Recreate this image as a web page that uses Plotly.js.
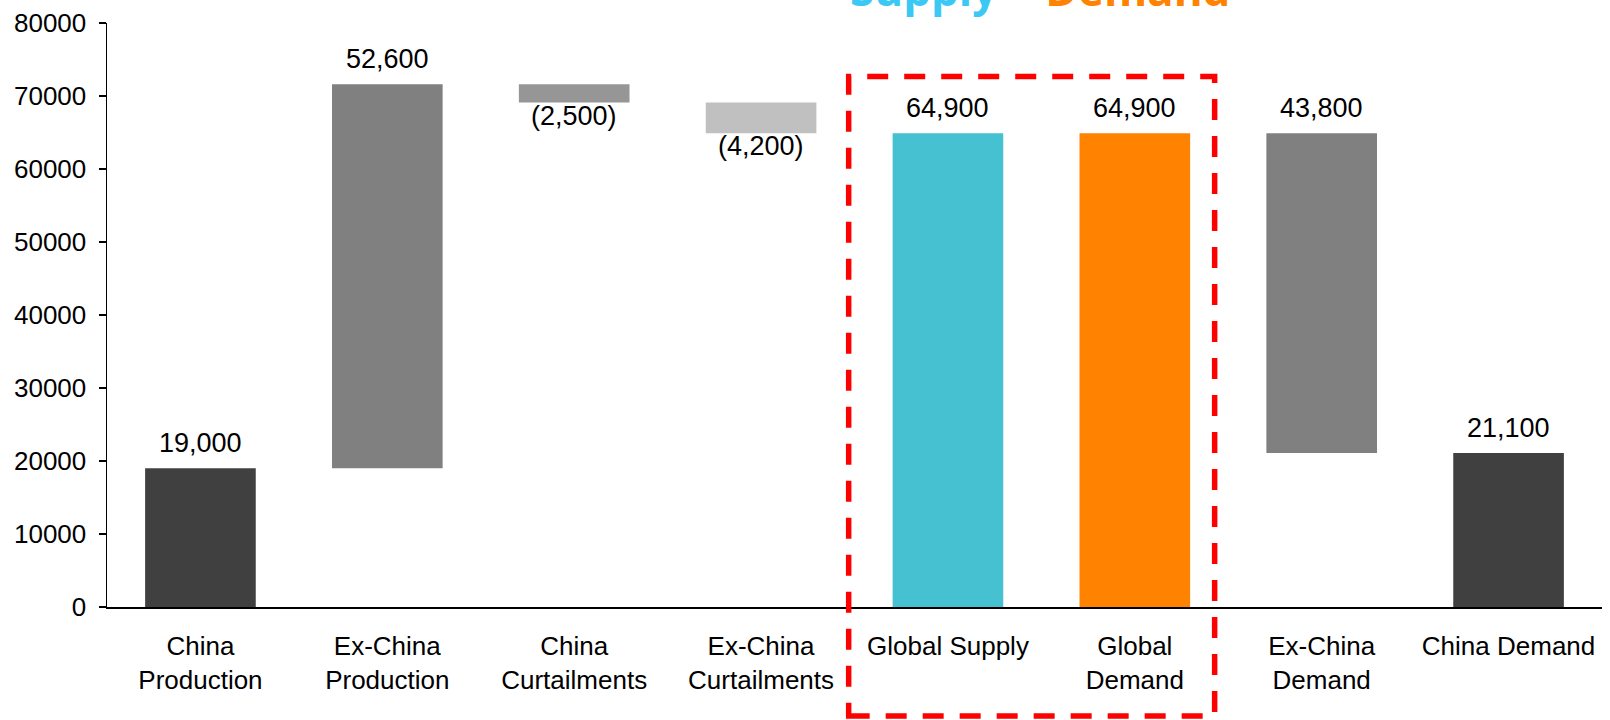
<!DOCTYPE html>
<html>
<head>
<meta charset="utf-8">
<script src="https://cdn.plot.ly/plotly-3.0.1.min.js"></script>
<style>html,body{margin:0;padding:0;background:#fff}#chart{width:1610px;height:720px}</style>
</head>
<body>
<div id="chart"></div>
<script>
// ---- data ----
const categories = ['China<br>Production', 'Ex-China<br>Production', 'China<br>Curtailments', 'Ex-China<br>Curtailments', 'Global Supply', 'Global<br>Demand', 'Ex-China<br>Demand', 'China Demand'];
const changes = [19000, 52600, -2500, -4200, 64900, 64900, -43800, 21100];
const measures = ['total', 'step', 'step', 'step', 'total', 'total', 'step', 'total'];
const labels = ['19,000', '52,600', '(2,500)', '(4,200)', '64,900', '64,900', '43,800', '21,100'];
const labelBelow = [false, false, true, true, false, false, false, false];
const colors = ['#404040', '#808080', '#969696', '#C0C0C0', '#45C1D1', '#FF8300', '#808080', '#404040'];
const yTicks = [0, 10000, 20000, 30000, 40000, 50000, 60000, 70000, 80000];

// ---- derive bar extents ----
let running = 0;
const bases = [], heights = [], tops = [], bottoms = [];
changes.forEach((v, i) => {
  let a, b;
  if (measures[i] === 'total') { a = 0; b = v; running = v; }
  else { a = running; b = running + v; running = b; }
  const lo = Math.min(a, b), hi = Math.max(a, b);
  bases.push(lo); heights.push(hi - lo); tops.push(hi); bottoms.push(lo);
});

const trace = {
  type: 'bar',
  x: categories,
  y: heights,
  base: bases,
  marker: {color: colors, line: {width: 0}},
  hoverinfo: 'skip'
};

const annotations = categories.map((c, i) => ({
  x: c, xref: 'x', yref: 'y',
  y: labelBelow[i] ? bottoms[i] : tops[i],
  yanchor: labelBelow[i] ? 'top' : 'bottom',
  yshift: labelBelow[i] ? 4 : 8,
  text: labels[i],
  showarrow: false,
  font: {family: 'Liberation Sans, Arial, sans-serif', size: 27, color: '#000'}
}));

annotations.push({
  xref: 'paper', yref: 'paper', x: 0.624, y: 1.004,
  xanchor: 'center', yanchor: 'bottom', showarrow: false,
  text: '<b><span style="color:#3CC8F5">Supply</span> <span style="color:#D9D9D9">=</span> <span style="color:#FF8300">Demand</span></b>',
  font: {family: 'Open Sans, sans-serif', size: 44}
});

const layout = {
  width: 1610, height: 720,
  margin: {l: 107, r: 8, t: 23, b: 113},
  paper_bgcolor: '#fff', plot_bgcolor: '#fff',
  showlegend: false,
  bargap: 0.408,
  font: {family: 'Liberation Sans, Arial, sans-serif', color: '#000'},
  xaxis: {
    type: 'category',
    showgrid: false, zeroline: false,
    showline: true, linecolor: '#000', linewidth: 1.5,
    ticks: '', ticklabelstandoff: 15,
    tickfont: {size: 26, color: '#000'}
  },
  yaxis: {
    range: [0, 80000],
    tickvals: yTicks, ticktext: yTicks.map(String),
    showgrid: false, zeroline: false,
    showline: true, linecolor: '#000', linewidth: 1.5,
    ticks: 'outside', ticklen: 7, tickwidth: 1.5, tickcolor: '#000',
    ticklabelstandoff: 7,
    tickfont: {size: 26, color: '#000'}
  },
  shapes: [{
    type: 'rect', xref: 'paper', yref: 'paper',
    x0: 0.4961, x1: 0.7409, y0: -0.1866, y1: 0.9086,
    line: {color: '#FF0000', width: 5.5, dash: '21px,16px'},
    fillcolor: 'rgba(0,0,0,0)'
  }],
  annotations: annotations
};

Plotly.newPlot('chart', [trace], layout, {displayModeBar: false, staticPlot: true});
</script>
</body>
</html>
